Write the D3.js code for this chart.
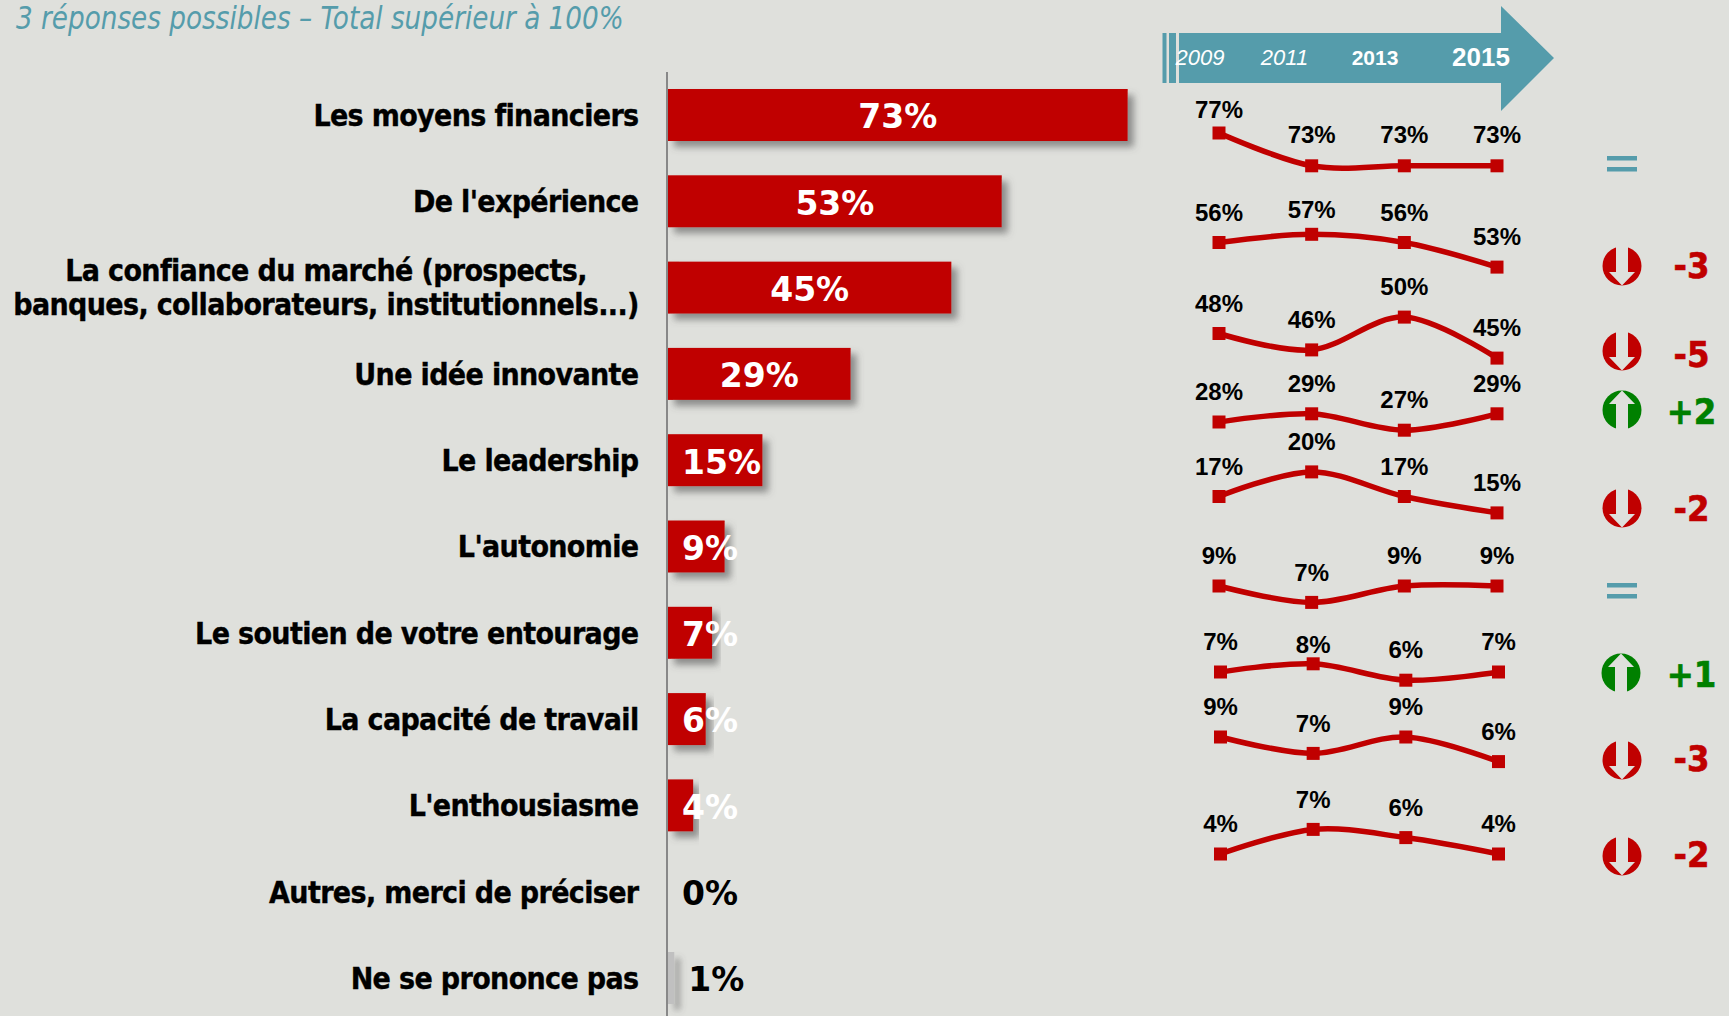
<!DOCTYPE html>
<html><head><meta charset="utf-8">
<script src="https://cdn.jsdelivr.net/npm/d3@7/dist/d3.min.js"></script>
<style>html,body{margin:0;padding:0;background:#DFE0DC;overflow:hidden}svg{display:block}</style>
</head><body><svg id="c" width="1729" height="1016"></svg>
<script>
const title = "3 réponses possibles – Total supérieur à 100%";
const categories = ["Les moyens financiers","De l'expérience",
  "La confiance du marché (prospects,|banques, collaborateurs, institutionnels...)",
  "Une idée innovante","Le leadership","L'autonomie","Le soutien de votre entourage",
  "La capacité de travail","L'enthousiasme","Autres, merci de préciser","Ne se prononce pas"];
const values2015 = [73,53,45,29,15,9,7,6,4,0,1];
const years = ["2009","2011","2013","2015"];
const trend = [
  [77,73,73,73],[56,57,56,53],[48,46,50,45],[28,29,27,29],[17,20,17,15],
  [9,7,9,9],[7,8,6,7],[9,7,9,6],[4,7,6,4]];
const deltas = [0,-3,-5,2,-2,0,1,-3,-2];

// layout (separate from the data)
const RED="#C00000", TEAL="#559CAB", GREEN="#008000", BG="#DFE0DC";
const trendAnchorY=[133,242.5,333.5,422,496.5,586,672,737,854];
const trendShiftX=[0,0,0,0,0,0,1.5,1.5,1.5];
const labelLift=[[23,31,31,31],[30,24,30,30],[30,30,30,30],[30,30,30,30],[30,30,30,30],
                 [30,30,30,30],[30,19,30,30],[30,30,30,30],[30,30,30,30]];
const deltaY=[163,266,351,410,508,590,673,760,856];
const deltaTextY=[0,265,354,411,508,0,674,758,854];

const svg=d3.select("#c");
svg.append("rect").attr("width",1729).attr("height",1016).attr("fill",BG);
const defs=svg.append("defs");
const f=defs.append("filter").attr("id","sh").attr("x","-10%").attr("y","-20%").attr("width","130%").attr("height","150%");
f.append("feDropShadow").attr("dx",6).attr("dy",6).attr("stdDeviation",3.5).attr("flood-color","#555").attr("flood-opacity",0.6);
const f2=defs.append("filter").attr("id","shN").attr("filterUnits","userSpaceOnUse").attr("x",660).attr("y",930).attr("width",60).attr("height",90);
f2.append("feDropShadow").attr("dx",6).attr("dy",6).attr("stdDeviation",3).attr("flood-color","#555").attr("flood-opacity",0.45);

const COND="'DejaVu Sans Condensed','DejaVu Sans',sans-serif", DV="'DejaVu Sans',sans-serif", AR="'Liberation Sans',Arial,sans-serif";

svg.append("text").text(title).attr("transform","translate(16,29) scale(0.913,1)").attr("font-family",COND)
  .attr("font-style","italic").attr("font-size",32).attr("fill",TEAL);

const x=d3.scaleLinear().domain([0,73]).range([668,1127.7]);
const y=d3.scalePoint().domain(categories).range([115,978]);
const barH=52;

// category labels
categories.forEach(c=>{
  const lines=c.split("|");
  const g=svg.append("text").attr("font-family",COND).attr("font-weight","bold").attr("font-size",30)
    .attr("letter-spacing",-0.65).attr("fill","#000").attr("stroke","#000").attr("stroke-width",0.35);
  if(lines.length===1){
    g.attr("x",638.5).attr("y",y(c)).attr("dy","0.36em").attr("text-anchor","end").text(c);
  } else {
    lines.forEach((l,i)=>g.append("tspan").attr("x",326).attr("text-anchor","middle")
      .attr("y",y(c)+(i===0?-17:17)).attr("dy","0.36em").text(l));
  }
});

// bars
values2015.forEach((v,i)=>{
  if(v===0) return;
  const c=categories[i];
  const grey=i===categories.length-1;
  svg.append("rect").attr("x",x(0)).attr("y",y(c)-barH/2).attr("width",x(v)-x(0)).attr("height",barH)
    .attr("fill",grey?"#C0C0C0":RED).attr("filter",grey?"url(#shN)":"url(#sh)");
});
svg.append("line").attr("x1",667).attr("x2",667).attr("y1",72).attr("y2",1016).attr("stroke","#888").attr("stroke-width",2);
values2015.forEach((v,i)=>{
  const c=categories[i], t=svg.append("text").text(v+"%").attr("y",y(c)+1.5).attr("dy","0.36em")
    .attr("font-family",DV).attr("font-weight","bold").attr("font-size",33);
  if(v>=29) t.attr("x",(x(0)+x(v))/2).attr("text-anchor","middle").attr("fill","#fff");
  else if(i<9) t.attr("x",682).attr("fill","#fff");
  else t.attr("x",x(v)+14).attr("fill","#000");
});

// timeline arrow
const tl=d3.path();
tl.moveTo(1179,33);tl.lineTo(1501,33);tl.lineTo(1501,6);tl.lineTo(1554,58);tl.lineTo(1501,111);tl.lineTo(1501,83);tl.lineTo(1179,83);tl.closePath();
svg.append("path").attr("d",tl.toString()).attr("fill",TEAL);
svg.append("rect").attr("x",1162.5).attr("y",33).attr("width",4).attr("height",50).attr("fill",TEAL);
svg.append("rect").attr("x",1169).attr("y",33).attr("width",7).attr("height",50).attr("fill",TEAL);
const yrStyle=[[1200,22,"italic","normal"],[1284.5,22,"italic","normal"],[1375,21,"normal","bold"],[1481,26,"normal","bold"]];
years.forEach((yr,i)=>svg.append("text").text(yr).attr("x",yrStyle[i][0]).attr("y",57).attr("dy","0.36em")
  .attr("text-anchor","middle").attr("font-family",AR).attr("font-size",yrStyle[i][1])
  .attr("font-style",yrStyle[i][2]).attr("font-weight",yrStyle[i][3]).attr("fill","#fff"));

// small multiples
const xT=d3.scalePoint().domain(years).range([1219,1497]);
const curve=d3.curveCardinal.tension(0);
trend.forEach((s,r)=>{
  const yT=d3.scaleLinear().domain([s[0],s[0]+1]).range([trendAnchorY[r],trendAnchorY[r]-8.2]);
  const px=i=>xT(years[i])+trendShiftX[r];
  svg.append("path").attr("d",d3.line().x((d,i)=>px(i)).y(d=>yT(d)).curve(curve)(s))
    .attr("fill","none").attr("stroke",RED).attr("stroke-width",5.5);
  svg.selectAll(null).data(s).enter().append("rect")
    .attr("x",(d,i)=>px(i)-6.5).attr("y",d=>yT(d)-6.5).attr("width",13).attr("height",13).attr("fill",RED);
  svg.selectAll(null).data(s).enter().append("text").text(d=>d+"%")
    .attr("x",(d,i)=>px(i)).attr("y",(d,i)=>yT(d)-labelLift[r][i]-0.5).attr("dy","0.36em").attr("text-anchor","middle")
    .attr("font-family",AR).attr("font-weight","bold").attr("font-size",24).attr("fill","#000");
});

// deltas
deltas.forEach((d,i)=>{
  const cy=deltaY[i], cx=i===6?1621:1622;
  if(d===0){
    [-7,4].forEach(o=>svg.append("rect").attr("x",cx-15).attr("y",cy+o).attr("width",30).attr("height",4.5).attr("fill",TEAL));
    return;
  }
  const col=d>0?GREEN:RED, s=d>0?-1:1;
  svg.append("circle").attr("cx",cx).attr("cy",cy).attr("r",19.5).attr("fill",col);
  const p=d3.path();
  p.moveTo(cx-6,cy-s*21);p.lineTo(cx-6,cy+s*6);p.lineTo(cx-13,cy+s*6);p.lineTo(cx,cy+s*19.5);
  p.lineTo(cx+13,cy+s*6);p.lineTo(cx+6,cy+s*6);p.lineTo(cx+6,cy-s*21);p.closePath();
  svg.append("path").attr("d",p.toString()).attr("fill",BG);
  svg.append("text").text((d>0?"+":"-")+Math.abs(d)).attr("x",1691.5).attr("y",deltaTextY[i]).attr("dy","0.36em")
    .attr("text-anchor","middle").attr("font-family",COND).attr("font-weight","bold").attr("font-size",36)
    .attr("fill",col).attr("stroke",col).attr("stroke-width",0.6);
});
</script></body></html>
